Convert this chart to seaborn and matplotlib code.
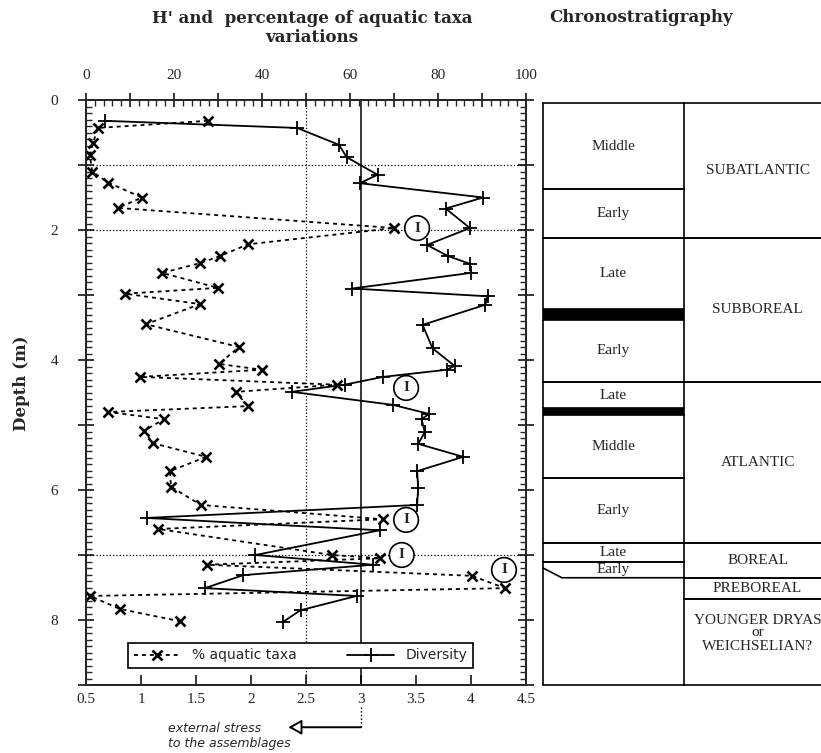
import matplotlib
matplotlib.use("Agg")
import matplotlib.pyplot as plt
import seaborn as sns
from matplotlib.ticker import MultipleLocator, FixedLocator, FixedFormatter

# Diversity (H') profile, read from top to bottom
div_depth = [0.32, 0.43, 0.69, 0.88, 1.15, 1.28, 1.50, 1.67, 1.97, 2.23,
             2.40, 2.52, 2.66, 2.90, 3.02, 3.15, 3.46, 3.82, 4.09, 4.15,
             4.26, 4.38, 4.49, 4.69, 4.83, 4.91, 5.11, 5.29, 5.49, 5.71,
             5.97, 6.23, 6.43, 6.62, 7.00, 7.15, 7.31, 7.51, 7.63, 7.85, 8.03]
div_h = [0.67, 2.42, 2.80, 2.87, 3.15, 2.99, 4.11, 3.77, 3.99, 3.60,
         3.79, 3.99, 4.00, 2.92, 4.15, 4.13, 3.56, 3.65, 3.85, 3.78,
         3.20, 2.85, 2.37, 3.29, 3.62, 3.55, 3.58, 3.52, 3.93, 3.51,
         3.52, 3.51, 1.05, 3.17, 2.04, 3.11, 1.93, 1.58, 2.96, 2.45, 2.29]

# % aquatic taxa profile
aq_depth = [0.32, 0.43, 0.66, 0.85, 1.10, 1.27, 1.50, 1.66, 1.97, 2.22,
            2.40, 2.51, 2.66, 2.89, 2.98, 3.14, 3.45, 3.80, 4.06, 4.15,
            4.26, 4.38, 4.49, 4.71, 4.80, 4.91, 5.09, 5.28, 5.49, 5.71,
            5.95, 6.23, 6.45, 6.60, 7.00, 7.05, 7.15, 7.32, 7.51, 7.63,
            7.83, 8.02]
aq_pct = [27.7, 2.7, 1.6, 0.9, 1.4, 5.0, 12.7, 7.3, 70.0, 36.8,
          30.5, 25.9, 17.3, 30.0, 8.9, 25.9, 13.6, 34.8, 30.2, 40.0,
          12.3, 57.0, 34.0, 36.8, 5.0, 17.7, 13.2, 15.2, 27.3, 19.1,
          19.3, 26.1, 67.5, 16.4, 55.9, 66.8, 27.5, 87.7, 95.2, 0.9,
          7.7, 21.4]

# circled "I" (external stress events)
stress_h = [3.51, 3.41, 3.41, 3.37, 4.30]
stress_depth = [1.97, 4.43, 6.46, 7.00, 7.23]

# chronostratigraphy
substage_names = ["Middle", "Early", "Late", "Early", "Late", "Middle", "Early", "Late", "Early"]
substage_top = [0.05, 1.37, 2.12, 3.38, 4.34, 4.85, 5.82, 6.82, 7.11]
substage_bottom = [1.37, 2.12, 3.22, 4.34, 4.74, 5.82, 6.82, 7.11, 7.35]
black_bands = [(3.22, 3.38), (4.74, 4.85)]
stage_names = ["SUBATLANTIC", "SUBBOREAL", "ATLANTIC", "BOREAL", "PREBOREAL",
               "YOUNGER DRYAS\nor\nWEICHSELIAN?"]
stage_top = [0.05, 2.12, 4.34, 6.82, 7.35, 7.68]
stage_bottom = [2.12, 4.34, 6.82, 7.35, 7.68, 9.0]

sns.set_style("ticks")
plt.rcParams["font.family"] = ["Liberation Serif", "DejaVu Serif"]
plt.rcParams["axes.linewidth"] = 1.4

W, H = 821, 753
fig = plt.figure(figsize=(W / 100, H / 100), dpi=100)

ax = fig.add_axes([86 / W, 1 - 685 / H, 440 / W, 585 / H])
ax2 = ax.twiny()

# reference lines
for d in [1, 2, 7]:
    ax.axhline(d, color="black", linestyle=":", linewidth=0.9, zorder=1)
ax.axvline(2.5, color="black", linestyle=":", linewidth=0.9, zorder=1)
ax.axvline(3.0, color="black", linestyle="-", linewidth=1.1, zorder=1)

sns.lineplot(x=div_h, y=div_depth, sort=False, estimator=None, ax=ax,
             color="black", linewidth=1.3, marker="+", markersize=10,
             markeredgewidth=1.3, markeredgecolor="black", label="Diversity")
sns.lineplot(x=aq_pct, y=aq_depth, sort=False, estimator=None, ax=ax2,
             color="black", linewidth=1.3, linestyle=(0, (2.2, 2.2)),
             marker="x", markersize=7.5, markeredgewidth=1.9,
             markeredgecolor="black", label="% aquatic taxa")

ax.set_xlim(0.5, 4.5)
ax.set_ylim(9, 0)
ax2.set_xlim(0, 100)

# bottom axis (H')
ax.xaxis.set_major_locator(FixedLocator([0.5, 1, 1.5, 2, 2.5, 3, 3.5, 4, 4.5]))
ax.xaxis.set_major_formatter(FixedFormatter(["0.5", "1", "1.5", "2", "2.5", "3", "3.5", "4", "4.5"]))
ax.tick_params(axis="x", which="major", direction="in", length=7, width=1.3,
               labelsize=11, pad=6, top=False)
# depth axis
ax.yaxis.set_major_locator(FixedLocator(list(range(10))))
ax.yaxis.set_major_formatter(FixedFormatter(["0", "", "2", "", "4", "", "6", "", "8", ""]))
ax.yaxis.set_minor_locator(MultipleLocator(0.1))
ax.tick_params(axis="y", which="major", direction="inout", length=12, width=1.3,
               labelsize=11, pad=14, left=True, right=True)
ax.tick_params(axis="y", which="minor", direction="in", length=4, width=1.0,
               left=True, right=True)
ax.set_ylabel("Depth (m)", fontsize=12, fontweight="bold", family="DejaVu Serif")
ax.yaxis.set_label_coords(-0.127, 0.516)
ax.set_xlabel("")

# top axis (%)
ax2.xaxis.set_major_locator(FixedLocator(list(range(0, 101, 10))))
ax2.xaxis.set_major_formatter(FixedFormatter(["0", "", "20", "", "40", "", "60", "", "80", "", "100"]))
ax2.xaxis.set_minor_locator(MultipleLocator(2))
ax2.tick_params(axis="x", which="major", direction="inout", length=10, width=1.3,
                labelsize=11, pad=8)
ax2.tick_params(axis="x", which="minor", direction="in", length=4, width=1.0)
ax2.set_xlabel("")

# circled I marks
for h, d in zip(stress_h, stress_depth):
    ax2.text(h, d, "I", transform=ax.transData, ha="center", va="center",
             fontsize=11, fontweight="bold", zorder=6,
             bbox=dict(boxstyle="circle,pad=0.38", fc="white", ec="black", lw=1.2))

# legend
for a in (ax, ax2):
    if a.get_legend() is not None:
        a.get_legend().remove()
h1, l1 = ax2.get_legend_handles_labels()
h2, l2 = ax.get_legend_handles_labels()
leg = ax2.legend(h1 + h2, l1 + l2, loc="lower left", ncol=2, mode="expand",
                 bbox_to_anchor=(42 / 440, 17 / 585, 345 / 440, 29 / 585),
                 borderaxespad=0, fancybox=False, framealpha=1,
                 edgecolor="black", handlelength=3.4, columnspacing=1.5,
                 prop={"family": "DejaVu Sans", "size": 10})
leg.get_frame().set_linewidth(1.2)
leg.set_zorder(10)

# external stress arrow
ax.plot([3, 3], [9.34, 9.65], color="black", linestyle=":", linewidth=1.0, clip_on=False)
ax.annotate("", xy=(2.34, 9.65), xytext=(3.0, 9.65), annotation_clip=False,
            arrowprops=dict(arrowstyle="-|>,head_length=0.8,head_width=0.45",
                            fc="white", ec="black", lw=1.4, shrinkA=0, shrinkB=0))
fig.text(168 / W, 1 - 728 / H, "external stress", fontsize=9, style="italic",
         family="DejaVu Sans", ha="left", va="center")
fig.text(168 / W, 1 - 743 / H, "to the assemblages", fontsize=9, style="italic",
         family="DejaVu Sans", ha="left", va="center")

# titles
fig.text(312 / W, 1 - 28 / H, "H' and  percentage of aquatic taxa\nvariations",
         ha="center", va="center", fontsize=12, fontweight="bold",
         family="DejaVu Serif", linespacing=1.15)
fig.text(641 / W, 1 - 17 / H, "Chronostratigraphy", ha="center", va="center",
         fontsize=12, fontweight="bold", family="DejaVu Serif")

# chronostratigraphy table
axt = fig.add_axes([543 / W, 1 - 685 / H, (W - 543) / W, 585 / H])
axt.set_xlim(0, 1)
axt.set_ylim(9, 0)
axt.axis("off")
mid = (684 - 543) / (W - 543)
lk = dict(color="black", linewidth=1.2, clip_on=False)
axt.plot([0, 0], [0.05, 9.0], **lk)
axt.plot([mid, mid], [0.05, 9.0], **lk)
for i, (name, t, b) in enumerate(zip(substage_names, substage_top, substage_bottom)):
    axt.plot([0, mid], [t, t], **lk)
    if i == len(substage_names) - 1:
        axt.plot([0, 0.068, mid], [b - 0.15, b, b], **lk)
    else:
        axt.plot([0, mid], [b, b], **lk)
    axt.text(mid / 2, (t + b) / 2, name, ha="center", va="center", fontsize=11)
for b0, b1 in black_bands:
    axt.fill_between([0, mid], b0, b1, color="black", linewidth=0)
for name, t, b in zip(stage_names, stage_top, stage_bottom):
    axt.plot([mid, 1], [t, t], **lk)
    axt.plot([mid, 1], [b, b], **lk)
    yc = (t + b) / 2 if b < 9 else 8.2
    axt.text(0.772, yc, name, ha="center", va="center", fontsize=11, linespacing=1.0)
axt.plot([0, mid], [9.0, 9.0], **lk)

fig.savefig("out.png", dpi=100)
